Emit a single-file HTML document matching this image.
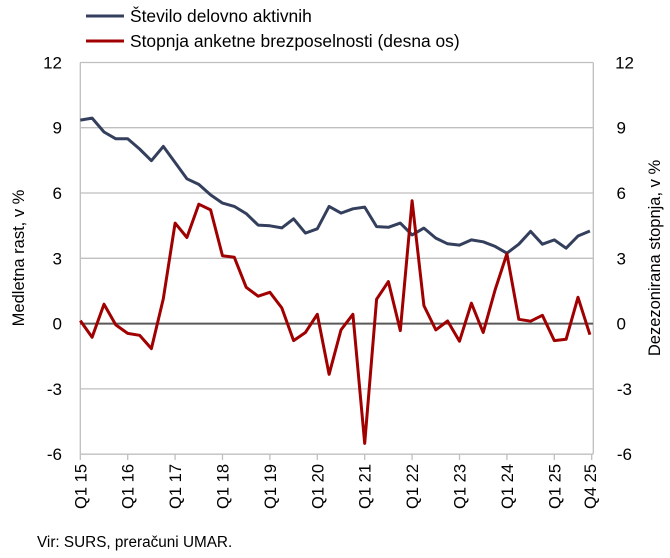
<!DOCTYPE html>
<html><head><meta charset="utf-8"><style>
html,body{margin:0;padding:0;background:#fff;}
svg{display:block;font-family:"Liberation Sans",Arial,sans-serif;}
</style></head><body>
<svg id="s" width="670" height="558" viewBox="0 0 670 558" xmlns="http://www.w3.org/2000/svg">
<g stroke="#bfbfbf" stroke-width="1.3">
<line x1="80" y1="62.5" x2="593" y2="62.5"/>
<line x1="80" y1="127.7" x2="593" y2="127.7"/>
<line x1="80" y1="193" x2="593" y2="193"/>
<line x1="80" y1="258.3" x2="593" y2="258.3"/>
<line x1="80" y1="388.9" x2="593" y2="388.9"/>
<line x1="80" y1="454.2" x2="593" y2="454.2"/>
<line x1="80.3" y1="62.5" x2="80.3" y2="454.2"/>
<line x1="593.3" y1="62.5" x2="593.3" y2="454.2"/>
</g>
<g id="ticks" stroke="#bfbfbf" stroke-width="1.3"></g>
<g font-size="17" fill="#000" text-anchor="end">
<text x="62" y="68.5">12</text><text x="62" y="133.7">9</text><text x="62" y="199">6</text>
<text x="62" y="264.3">3</text><text x="62" y="329.6">0</text><text x="62" y="394.9">-3</text><text x="62" y="460.2">-6</text>
</g>
<g font-size="17" fill="#000" text-anchor="end">
<text x="634" y="68.5">12</text><text x="626" y="133.7">9</text><text x="626" y="199">6</text>
<text x="626" y="264.3">3</text><text x="626" y="329.6">0</text><text x="632" y="394.9">-3</text><text x="632" y="460.2">-6</text>
</g>
<text font-size="16.5" text-anchor="middle" transform="translate(24,258) rotate(-90)">Medletna rast, v %</text>
<text font-size="16.5" text-anchor="middle" transform="translate(660,258) rotate(-90)">Dezezonirana stopnja, v %</text>
<g id="xl" font-size="16.5" text-anchor="end"></g>
<line x1="80" y1="323.6" x2="593" y2="323.6" stroke="#595959" stroke-width="2"/>
<polyline id="b" fill="none" stroke="#333f5c" stroke-width="3" stroke-linejoin="round"/>
<polyline id="r" fill="none" stroke="#a00000" stroke-width="3" stroke-linejoin="round"/>
<line x1="86" y1="16" x2="124" y2="16" stroke="#333f5c" stroke-width="3"/>
<text x="130" y="22" font-size="17.4">Število delovno aktivnih</text>
<line x1="86" y1="41" x2="124" y2="41" stroke="#a00000" stroke-width="3"/>
<text x="130" y="47" font-size="17.4">Stopnja anketne brezposelnosti (desna os)</text>
<text x="37" y="547" font-size="15.3">Vir: SURS, preračuni UMAR.</text>
</svg>
<script>
var B=[9.36,9.45,8.81,8.5,8.5,8.03,7.49,8.15,7.41,6.66,6.4,5.92,5.54,5.39,5.06,4.53,4.5,4.4,4.82,4.16,4.36,5.39,5.08,5.28,5.36,4.46,4.43,4.62,4.08,4.39,3.93,3.67,3.61,3.85,3.76,3.55,3.24,3.65,4.24,3.65,3.85,3.47,4.03,4.26];
var R=[0.14,-0.63,0.89,-0.06,-0.45,-0.54,-1.15,1.14,4.62,3.96,5.49,5.23,3.12,3.05,1.67,1.26,1.44,0.72,-0.78,-0.41,0.43,-2.33,-0.29,0.43,-5.51,1.12,1.93,-0.32,5.65,0.83,-0.29,0.12,-0.81,0.94,-0.41,1.55,3.21,0.2,0.11,0.38,-0.78,-0.72,1.21,-0.51];
function X(i){return 80.3+i*11.85;}
function Y(v){return 323.6-v*65.23/3;}
document.getElementById('b').setAttribute('points',B.map(function(v,i){return X(i).toFixed(1)+','+Y(v).toFixed(1)}).join(' '));
document.getElementById('r').setAttribute('points',R.map(function(v,i){return X(i).toFixed(1)+','+Y(v).toFixed(1)}).join(' '));
var ns='http://www.w3.org/2000/svg',t=document.getElementById('ticks'),xl=document.getElementById('xl');
for(var k=0;k<=11;k++){var x=k<11?X(k*4):591.7;var l=document.createElementNS(ns,'line');l.setAttribute('x1',x);l.setAttribute('x2',x);l.setAttribute('y1',454);l.setAttribute('y2',460);t.appendChild(l);}
for(var k=0;k<11;k++){var x=X(k*4)+6;var tx=document.createElementNS(ns,'text');tx.setAttribute('transform','translate('+x+',464) rotate(-90)');tx.textContent='Q1 '+(15+k);xl.appendChild(tx);}
var tx=document.createElementNS(ns,'text');tx.setAttribute('transform','translate('+(X(43)+6)+',464) rotate(-90)');tx.textContent='Q4 25';xl.appendChild(tx);
</script>
</body></html>
